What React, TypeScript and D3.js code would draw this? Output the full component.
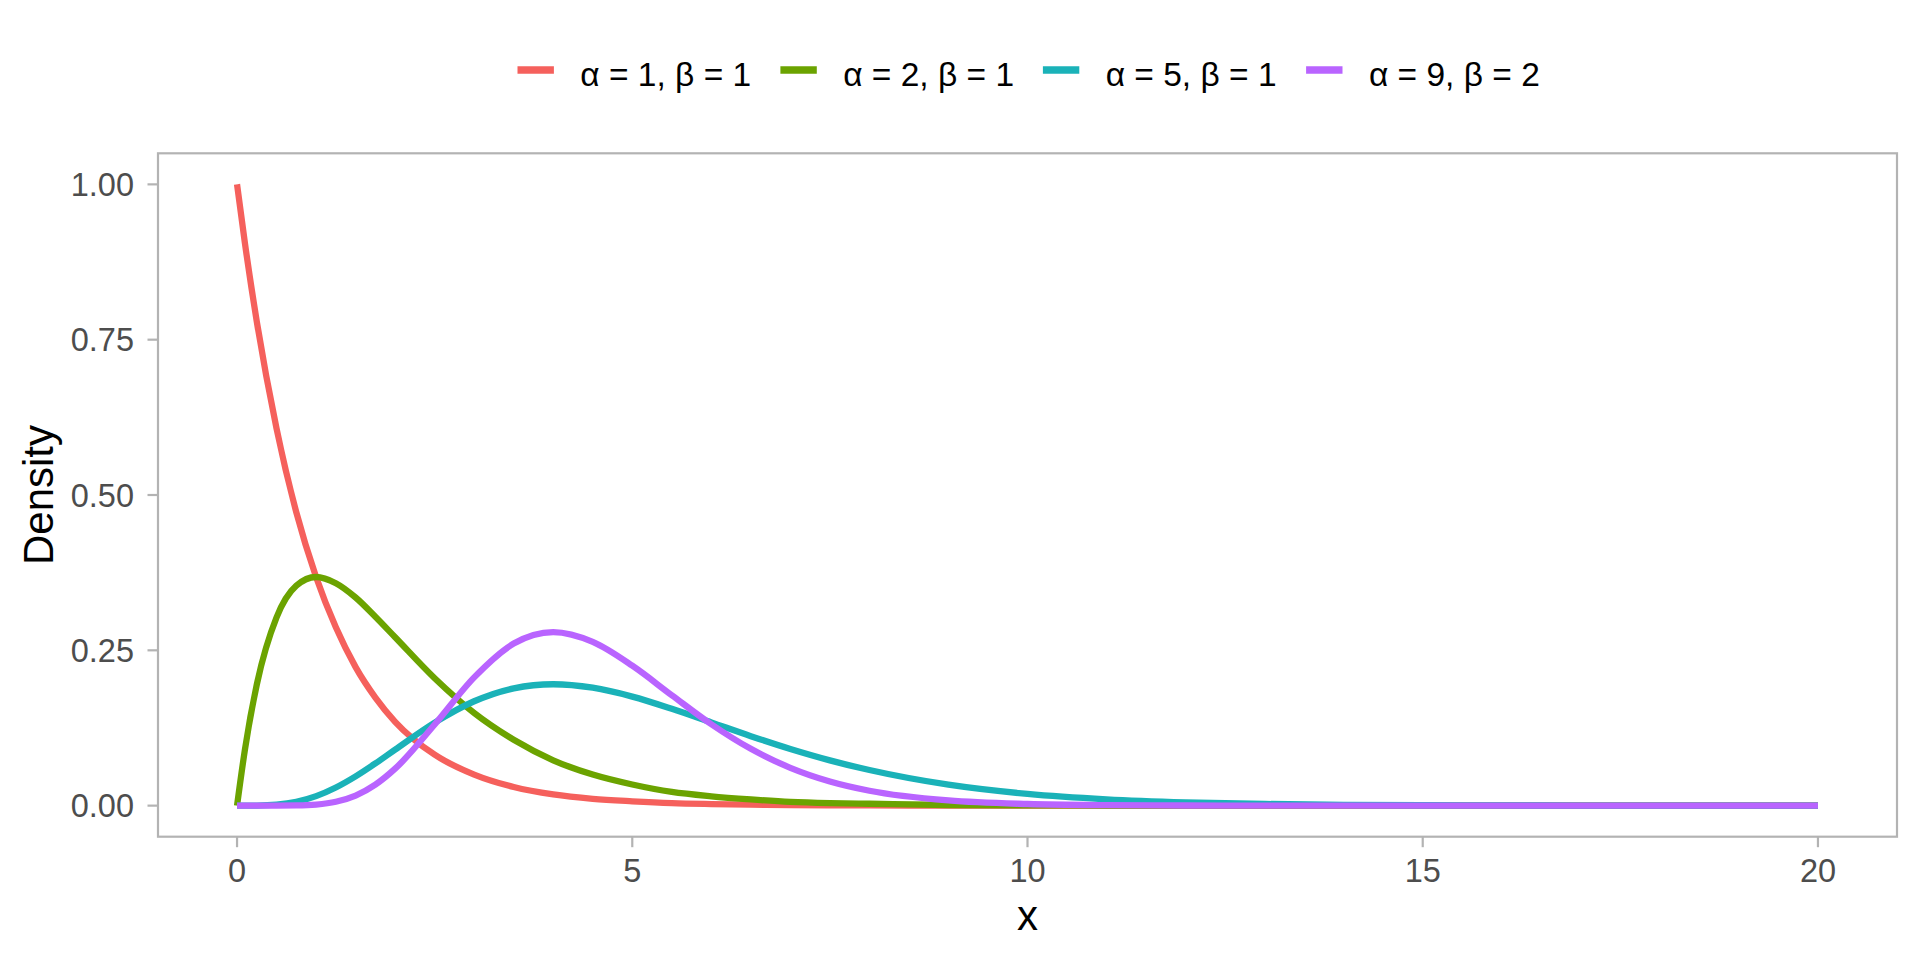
import React, { useEffect, useRef } from "react";
import * as d3 from "d3";

const xGrid = [0, 0.1, 0.25, 0.5, 0.75, 1, 1.25, 1.5, 1.75, 2, 2.5, 3, 3.5, 4, 4.5, 5, 5.5, 6, 6.5, 7, 7.5, 8, 9, 10, 11, 12, 13, 14, 15, 16, 17, 18, 19, 20];

const seriesA1B1 = [1.0, 0.905, 0.779, 0.607, 0.472, 0.368, 0.287, 0.223, 0.174, 0.135, 0.082, 0.05, 0.03, 0.018, 0.011, 0.007, 0.004, 0.0025, 0.0015, 0.001, 0.0006, 0.0003, 0.0001, 0, 0, 0, 0, 0, 0, 0, 0, 0, 0, 0];
const seriesA2B1 = [0, 0.0905, 0.195, 0.303, 0.354, 0.368, 0.358, 0.335, 0.304, 0.271, 0.205, 0.149, 0.106, 0.073, 0.05, 0.034, 0.022, 0.015, 0.01, 0.006, 0.004, 0.003, 0.001, 0.0005, 0.0002, 0, 0, 0, 0, 0, 0, 0, 0, 0];
const seriesA5B1 = [0, 0, 0.00013, 0.0016, 0.0062, 0.0153, 0.0292, 0.0471, 0.0679, 0.0902, 0.1336, 0.168, 0.1888, 0.1954, 0.1898, 0.1755, 0.1558, 0.1339, 0.1118, 0.0912, 0.0729, 0.0573, 0.0337, 0.0189, 0.0102, 0.0053, 0.0027, 0.0013, 0.00065, 0.0003, 0.00014, 0.00006, 0.00003, 0.00001];
const seriesA9B2 = [0, 0, 0, 0, 0.00028, 0.00172, 0.00621, 0.0162, 0.0338, 0.0595, 0.1306, 0.2065, 0.2608, 0.2792, 0.2635, 0.2252, 0.1777, 0.131, 0.0914, 0.0609, 0.0389, 0.024, 0.00832, 0.00262, 0.00076, 0.0002, 0.00005, 0, 0, 0, 0, 0, 0, 0];

const seriesLabels = ["α = 1, β = 1", "α = 2, β = 1", "α = 5, β = 1", "α = 9, β = 2"];
const seriesColors = ["#F5605C", "#6BA300", "#1AB2B8", "#B964FF"];
const seriesValues = [seriesA1B1, seriesA2B1, seriesA5B1, seriesA9B2];

const xTicks = [0, 5, 10, 15, 20];
const yTicks = [0, 0.25, 0.5, 0.75, 1.0];

const FONT = "'Liberation Sans', Arial, Helvetica, sans-serif";

export default function App() {
  const ref = useRef<SVGSVGElement>(null);

  useEffect(() => {
    const svg = d3.select(ref.current);
    svg.selectAll("*").remove();

    const left = 158, right = 1897, top = 153.3, bottom = 836.7;
    const x = d3.scaleLinear().domain([-1, 21]).range([left, right]);
    const y = d3.scaleLinear().domain([-0.05, 1.05]).range([bottom, top]);

    svg.append("rect").attr("width", 1920).attr("height", 960).attr("fill", "#fff");

    const line = d3
      .line<[number, number]>()
      .x((d) => x(d[0]))
      .y((d) => y(d[1]))
      .curve(d3.curveMonotoneX);

    seriesValues.forEach((vals, i) => {
      const pts: [number, number][] = xGrid.map((xv, j) => [xv, vals[j]]);
      svg
        .append("path")
        .attr("d", line(pts) as string)
        .attr("fill", "none")
        .attr("stroke", seriesColors[i])
        .attr("stroke-width", 6.3)
        .attr("stroke-linejoin", "round");
    });

    svg
      .append("rect")
      .attr("x", left)
      .attr("y", top)
      .attr("width", right - left)
      .attr("height", bottom - top)
      .attr("fill", "none")
      .attr("stroke", "#B3B3B3")
      .attr("stroke-width", 2.2);

    const xg = svg.append("g");
    xTicks.forEach((t) => {
      xg.append("line")
        .attr("x1", x(t)).attr("x2", x(t))
        .attr("y1", bottom).attr("y2", bottom + 10.5)
        .attr("stroke", "#B3B3B3").attr("stroke-width", 2.2);
      xg.append("text")
        .attr("x", x(t)).attr("y", 881.7)
        .attr("text-anchor", "middle")
        .attr("font-family", FONT).attr("font-size", 32.5)
        .attr("fill", "#4D4D4D")
        .text(d3.format("d")(t));
    });

    const yg = svg.append("g");
    yTicks.forEach((t) => {
      yg.append("line")
        .attr("x1", left - 10.5).attr("x2", left)
        .attr("y1", y(t)).attr("y2", y(t))
        .attr("stroke", "#B3B3B3").attr("stroke-width", 2.2);
      yg.append("text")
        .attr("x", 134).attr("y", y(t))
        .attr("dy", "0.36em")
        .attr("text-anchor", "end")
        .attr("font-family", FONT).attr("font-size", 32.5)
        .attr("fill", "#4D4D4D")
        .text(d3.format(".2f")(t));
    });

    svg.append("text")
      .attr("x", (left + right) / 2)
      .attr("y", 930)
      .attr("text-anchor", "middle")
      .attr("font-family", FONT).attr("font-size", 42)
      .attr("fill", "#000")
      .text("x");
    svg.append("text")
      .attr("transform", `translate(52.5, ${(top + bottom) / 2}) rotate(-90)`)
      .attr("text-anchor", "middle")
      .attr("font-family", FONT).attr("font-size", 42)
      .attr("fill", "#000")
      .text("Density");

    const keyX = [517.5, 780.4, 1042.9, 1306.1];
    const lg = svg.append("g");
    seriesLabels.forEach((lab, i) => {
      lg.append("line")
        .attr("x1", keyX[i]).attr("x2", keyX[i] + 36.4)
        .attr("y1", 70).attr("y2", 70)
        .attr("stroke", seriesColors[i]).attr("stroke-width", 7.5);
      lg.append("text")
        .attr("x", keyX[i] + 62.8).attr("y", 85.5)
        .attr("font-family", FONT).attr("font-size", 33.5)
        .attr("fill", "#000")
        .text(lab);
    });
  }, []);

  return (
    <svg
      ref={ref}
      width={1920}
      height={960}
      style={{ position: "absolute", left: 0, top: 0, display: "block" }}
    />
  );
}
